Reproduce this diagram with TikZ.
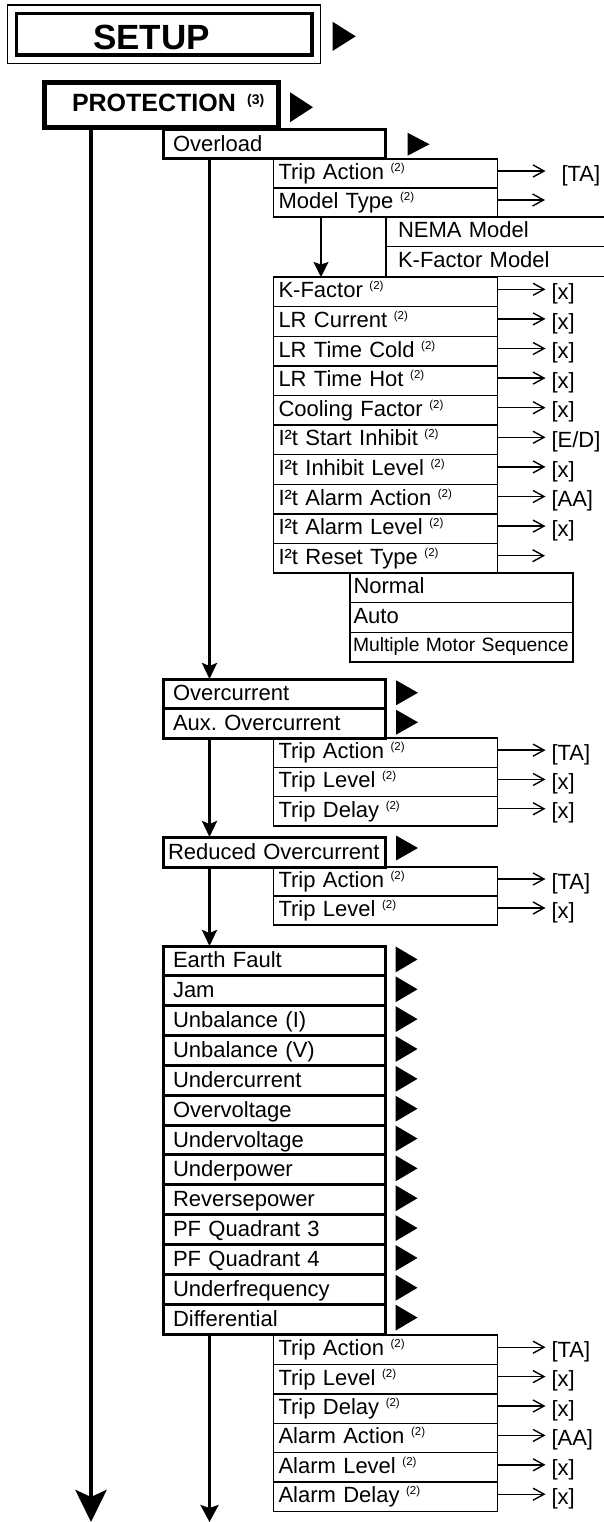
\documentclass[tikz,border=0pt]{standalone}
\usepackage{fontspec}
\setmainfont{Liberation Sans}
\usetikzlibrary{arrows.meta,positioning,shapes.geometric,fit}
\frenchspacing
\hyphenpenalty=10000
\newcommand\setupfont{\fontsize{35pt}{38pt}\selectfont\bfseries}
\newcommand\protfont{\fontsize{25pt}{28pt}\selectfont\bfseries}
\newcommand\itemfont{\fontsize{22pt}{24pt}\selectfont}
\newcommand\optsmallfont{\fontsize{19.3pt}{21pt}\selectfont}
\newcommand\supnote[1]{\nobreak\hspace{0.3em}\raisebox{8pt}{\fontsize{11.5pt}{12pt}\selectfont(#1)}}
\newcommand\supnotebf[1]{\nobreak\hspace{0.45em}\raisebox{7.5pt}{\fontsize{14pt}{15pt}\selectfont\bfseries(#1)}}
\tikzset{
  setupbox/.style={draw, line width=3.6pt, anchor=north west, minimum height=41.3pt, text width=142.5pt, inner xsep=76.5pt, inner ysep=0pt, outer sep=0pt, align=left, text height=31pt, text depth=0pt, font=\setupfont},
  protbox/.style={draw, line width=5pt, anchor=north west, minimum height=45.5pt, text width=179pt, inner xsep=27.5pt, inner ysep=0pt, outer sep=0pt, align=left, text height=18pt, text depth=5pt, font=\protfont},
  rowbox/.style={draw, anchor=north west, inner ysep=0pt, outer sep=0pt, align=left, text height=15.5pt, text depth=3.5pt, font=\itemfont},
  menubox/.style={rowbox, line width=3pt, minimum height=#1, text width=202.5pt, inner xsep=10pt, text depth=1.5pt},
  menubox/.default=29.6pt,
  parambox/.style={rowbox, line width=1.4pt, minimum height=#1, text width=214pt, inner xsep=5pt},
  parambox/.default=29.6pt,
  optbox/.style={rowbox, line width=1.4pt, minimum height=29.6pt},
  menutri/.style={isosceles triangle, isosceles triangle stretches, shape border rotate=0, fill=black, inner sep=0pt, outer sep=0pt, minimum width=25pt, minimum height=22pt, anchor=west},
  valtext/.style={anchor=west, inner sep=0pt, outer sep=0pt, font=\itemfont},
  valarrow/.style={line width=1.4pt, -{Straight Barb[length=11pt,width=12pt]}, shorten >=6pt},
  downarrow/.style={line width=3pt, -{Stealth[length=16pt,width=15pt,inset=3pt]}}
}
\begin{document}
\begin{tikzpicture}[x=1pt, y=-1pt]
  \useasboundingbox (0,0) rectangle (604,1522);
  \clip (0,0) rectangle (604,1522);
  % top levels
  \node[setupbox] (setup) at (16.5,13.7) {SETUP};
  \node[draw, line width=1.2pt, inner sep=8.7pt, outer sep=0pt, fit=(setup)] (setupframe) {};
  \node[menutri, minimum width=29pt, minimum height=23pt] (setuptri) at ([xshift=12pt,yshift=-2pt]setupframe.east) {};
  \node[protbox] (prot) at (44.5,82.5) {PROTECTION\supnotebf{3}};
  \node[menutri, minimum width=30pt, minimum height=23pt] (prottri) at ([xshift=11.5pt,yshift=-2pt]prot.east) {};
  \coordinate (mainend) at (91,1522);
  \draw[line width=4.8pt, -{Stealth[length=32pt,width=31pt,inset=7pt]}] ([xshift=46.5pt]prot.south west) -- (mainend);

  % overload
  \node[menubox=28.5pt] (ov) at (163,130) {Overload};
  \node[menutri, minimum width=23pt] (ovtri) at ([xshift=22pt]ov.east) {};
  \node[parambox=29pt] (ta1) at (273.5,159) {Trip Action\supnote{2}};
  \node[parambox=29pt, below=0pt of ta1] (mt) {Model Type\supnote{2}};
  \node[valtext] (tav1) at ([xshift=64pt,yshift=-2pt]ta1.east) {[TA]};
  \draw[valarrow, shorten >=16pt] ([yshift=2.5pt]ta1.east) -- ([yshift=2.5pt]ta1.east -| tav1.west);
  \coordinate (mtend) at ([xshift=47.5pt,yshift=2.5pt]mt.east);
  \draw[valarrow, shorten >=0pt] ([yshift=2.5pt]mt.east) -- (mtend);
  \node[optbox, text width=200pt, inner xsep=12pt] (nema) at (386,217) {NEMA Model};
  \node[optbox, text width=200pt, inner xsep=12pt, below=0pt of nema] (kfm) {K-Factor Model};
  \foreach \t/\v [count=\i] in {K-Factor/{[x]}, LR Current/{[x]}, LR Time Cold/{[x]}, LR Time Hot/{[x]}, Cooling Factor/{[x]}, I²t Start Inhibit/{[E/D]}, I²t Inhibit Level/{[x]}, I²t Alarm Action/{[AA]}, I²t Alarm Level/{[x]}}{
    \node[parambox] (kf\i) at (273.5,{277+29.6*(\i-1)}) {\t\supnote{2}};
    \node[valtext] (kfv\i) at ([xshift=54pt,yshift=-2pt]kf\i.east) {\v};
    \draw[valarrow] ([yshift=2.5pt]kf\i.east) -- ([yshift=2.5pt]kf\i.east -| kfv\i.west);
  }
  \node[parambox, below=0pt of kf9] (rt) {I²t Reset Type\supnote{2}};
  \coordinate (rtend) at ([xshift=47.5pt,yshift=2.5pt]rt.east);
  \draw[valarrow, shorten >=0pt] ([yshift=2.5pt]rt.east) -- (rtend);
  \draw[line width=1.8pt, -{Stealth[length=15pt,width=15pt,inset=2.5pt]}] ([xshift=47.5pt]mt.south west) -- ([xshift=47.5pt]mt.south west |- kf1.north);
  \node[optbox, text width=216pt, inner xsep=3.5pt] (nor) at (350,573) {Normal};
  \node[optbox, text width=216pt, inner xsep=3.5pt, below=0pt of nor] (aut) {Auto};
  \node[optbox, text width=217pt, inner xsep=3pt, font=\optsmallfont, text height=14pt, text depth=6pt, below=0pt of aut] (mms) {Multiple Motor Sequence};

  % overcurrent
  \node[menubox=29.5pt] (oc) at (163,679) {Overcurrent};
  \node[menubox=29.5pt, below=0pt of oc] (aoc) {Aux. Overcurrent};
  \node[menutri] (octri) at ([xshift=10.5pt,yshift=1pt]oc.east) {};
  \node[menutri] (aoctri) at ([xshift=10.5pt,yshift=1pt]aoc.east) {};
  \draw[downarrow] ([xshift=46.5pt]ov.south west) -- ([xshift=46.5pt]oc.north west);
  \foreach \t/\v [count=\i] in {Trip Action/{[TA]}, Trip Level/{[x]}, Trip Delay/{[x]}}{
    \node[parambox=29.3pt] (ac\i) at (273.5,{738+29.3*(\i-1)}) {\t\supnote{2}};
    \node[valtext] (acv\i) at ([xshift=54pt,yshift=-2pt]ac\i.east) {\v};
    \draw[valarrow] ([yshift=2.5pt]ac\i.east) -- ([yshift=2.5pt]ac\i.east -| acv\i.west);
  }

  % reduced overcurrent
  \node[menubox=30pt, text width=212.5pt, inner xsep=5pt] (roc) at (163,837) {Reduced Overcurrent};
  \node[menutri] (roctri) at ([xshift=10.5pt,yshift=4pt]roc.east) {};
  \draw[downarrow] ([xshift=46.5pt]aoc.south west) -- ([xshift=46.5pt]roc.north west);
  \foreach \t/\v [count=\i] in {Trip Action/{[TA]}, Trip Level/{[x]}}{
    \node[parambox=29pt] (rc\i) at (273.5,{867+29*(\i-1)}) {\t\supnote{2}};
    \node[valtext] (rcv\i) at ([xshift=54pt,yshift=-2pt]rc\i.east) {\v};
    \draw[valarrow] ([yshift=2.5pt]rc\i.east) -- ([yshift=2.5pt]rc\i.east -| rcv\i.west);
  }

  % other protections
  \foreach \t [count=\i] in {Earth Fault, Jam, Unbalance (I), Unbalance (V), Undercurrent, Overvoltage, Undervoltage, Underpower, Reversepower, PF Quadrant 3, PF Quadrant 4, Underfrequency, Differential}{
    \node[menubox=29.85pt] (em\i) at (163,{946+29.85*(\i-1)}) {\t};
    \node[menutri, minimum width=26pt] (emtri\i) at ([xshift=10pt,yshift=1.5pt]em\i.east) {};
  }
  \draw[downarrow] ([xshift=46.5pt]roc.south west) -- ([xshift=46.5pt]em1.north west);
  \foreach \t/\v [count=\i] in {Trip Action/{[TA]}, Trip Level/{[x]}, Trip Delay/{[x]}, Alarm Action/{[AA]}, Alarm Level/{[x]}, Alarm Delay/{[x]}}{
    \node[parambox=29.4pt] (df\i) at (273.5,{1335+29.4*(\i-1)}) {\t\supnote{2}};
    \node[valtext] (dfv\i) at ([xshift=54pt,yshift=-2pt]df\i.east) {\v};
    \draw[valarrow] ([yshift=2.5pt]df\i.east) -- ([yshift=2.5pt]df\i.east -| dfv\i.west);
  }
  \coordinate (diffend) at (209.5,1522);
  \draw[downarrow, -{Stealth[length=17pt,width=18pt,inset=3pt]}] ([xshift=46.5pt]em13.south west) -- (diffend);
\end{tikzpicture}
\end{document}
